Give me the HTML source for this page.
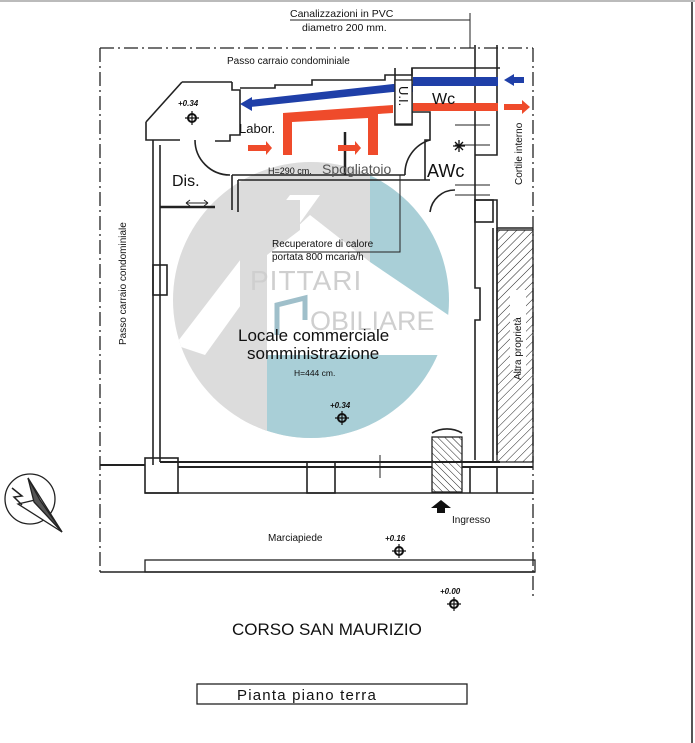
<!DOCTYPE html>
<html><head><meta charset="utf-8"><style>
html,body{margin:0;padding:0;background:#fff;}
svg{display:block;font-family:"Liberation Sans",Arial,sans-serif;}
</style></head><body>
<svg width="695" height="743" viewBox="0 0 695 743" xmlns="http://www.w3.org/2000/svg">
<defs>
<clipPath id="c"><circle cx="311" cy="300" r="138"/></clipPath>
<pattern id="h" width="6" height="6" patternUnits="userSpaceOnUse" patternTransform="rotate(45)"><line x1="0" y1="0" x2="0" y2="6" stroke="#222" stroke-width="1"/></pattern>
<pattern id="h2" width="5" height="5" patternUnits="userSpaceOnUse" patternTransform="rotate(-45)"><line x1="0" y1="0" x2="0" y2="5" stroke="#222" stroke-width="1"/></pattern>
</defs>
<rect width="695" height="743" fill="#fff"/>
<line x1="692" y1="0" x2="692" y2="743" stroke="#555" stroke-width="2"/>
<line x1="0" y1="1" x2="695" y2="1" stroke="#bbb" stroke-width="2"/>

<!-- watermark -->
<g clip-path="url(#c)">
 <rect x="160" y="150" width="210" height="300" fill="#dcdcdc"/>
 <polygon points="370,150 460,150 460,323 370,262" fill="#a9cfd7"/>
 <polygon points="262,355 460,355 460,450 262,450" fill="#a9cfd7"/>
 <polygon points="175,345 290,195 320,195 205,355" fill="#fff"/>
 <polygon points="267,255 310,215 370,262 370,355 267,355" fill="#fff"/>
 <polygon points="240,230 270,200 300,200 300,230 267,255 267,450 240,450 240,300" fill="#dcdcdc"/>
 <polygon points="160,420 240,420 240,450 160,450" fill="#fff"/>
</g>
<text x="250" y="290" font-size="28" fill="#cfcfcf" letter-spacing="1">PITTARI</text>
<text x="310" y="330" font-size="27" fill="#cfcfcf">OBILIARE</text>
<path d="M277 335 L277 305 L305 298 L305 320" fill="none" stroke="#9fbfca" stroke-width="5"/>

<!-- outer dash-dot boundary -->
<g stroke="#222" stroke-width="1.3" fill="none" stroke-dasharray="14,4,2,4">
 <path d="M100 48 L533 48 M100 48 L100 572 M533 48 L533 600"/>
</g>
<line x1="100" y1="572" x2="535" y2="572" stroke="#222" stroke-width="1.5"/>
<rect x="145" y="560" width="390" height="12" fill="none" stroke="#222" stroke-width="1.3"/>

<!-- building walls -->
<g stroke="#222" stroke-width="1.6" fill="none">
 <path d="M182 82 L232 82 M146 122 L182 82 M146 122 L146 140 L180 140"/>
 <path d="M153 140 L153 465 M160 145 L160 462"/>
 <rect x="153" y="265" width="14" height="30"/>
 <path d="M232 82 L232 90 L240 90 L240 135 L230 135 L230 141 L215 141"/>
 <path d="M240 88 L275 88 L275 85 L312 85 L312 80 L385 80 L385 75 L412 75 L412 68 L500 68"/>
 <path d="M232 175 L232 210 M232 175 L405 175 M238 180 L238 212 M238 180 L430 180"/>
 <path d="M160 207 L215 207" stroke-width="2.5"/>
 <path d="M405 112 L430 112 L430 140 L425 140 L425 180"/>
 <path d="M412 68 L412 125 L395 125 L395 68"/>
 <path d="M475 45 L475 200 M497 45 L497 155 L475 155"/>
 <path d="M475 200 L497 200 L497 228 L533 228 M475 200 L475 288 L480 288 L480 320 L475 320 L475 460"/>
 <path d="M493 228 L493 462 M497 228 L497 455"/>
 <rect x="475" y="200" width="18" height="22"/>
 <path d="M160 462 L500 462 M178 467 L432 467 M462 467 L533 467" stroke-width="2"/>
 <rect x="145" y="458" width="33" height="35"/>
 <rect x="307" y="462" width="28" height="31"/>
 <path d="M145 493 L533 493"/>
 <path d="M100 465 L145 465" stroke-width="2"/>
 <path d="M470 467 L470 493 M497 467 L497 493"/>
 <path d="M380 455 L380 478" stroke-width="1"/>
 <path d="M195 140 A35 35 0 0 0 230 175"/>
 <path d="M430 140 A35 35 0 0 0 405 175"/>
 <path d="M430 212 A25 25 0 0 1 455 190"/>
 <path d="M432 433 A30 30 0 0 1 462 433"/>
 <path d="M345 132 L345 175" stroke-width="2.5"/>
 <path d="M400 175 L400 252 L272 252" stroke-width="1"/>
 <path d="M470 13 L470 48 M290 20 L470 20" stroke-width="1"/>
 <path d="M455 125 L490 125 M455 145 L490 145 M455 185 L490 185 M455 195 L490 195" stroke-width="1"/>
 <path d="M186 203 L208 203 M186 203 l4 -3 M186 203 l4 3 M208 203 l-4 -3 M208 203 l-4 3" stroke-width="1"/>
</g>
<rect x="432" y="437" width="30" height="55" fill="url(#h2)" stroke="#222" stroke-width="1.3"/>
<rect x="497" y="230" width="36" height="232" fill="url(#h)" stroke="#222" stroke-width="1.3"/>
<rect x="510" y="290" width="16" height="80" fill="#fff"/>

<!-- ducts -->
<rect x="413" y="77" width="85" height="9" fill="#1f3fa8"/>
<polygon points="393,84 413,84 413,92 393,92 250,107 250,100" fill="#1f3fa8"/>
<polygon points="240,104 252,97 252,111" fill="#1f3fa8"/>
<polygon points="504,80 514,74 514,86" fill="#1f3fa8"/><rect x="512" y="77" width="12" height="6" fill="#1f3fa8"/>
<rect x="413" y="103" width="85" height="8" fill="#ef4b2b"/>
<path d="M283 155 L283 113 L393 105 L393 113 L378 114 L378 155 L368 155 L368 118 L292 122 L292 155 Z" fill="#ef4b2b"/>
<path d="M504 104 L522 104 L522 100 L530 107 L522 114 L522 110 L504 110Z" fill="#ef4b2b"/>
<path d="M248 145 L266 145 L266 141 L272 148 L266 155 L266 151 L248 151Z" fill="#ef4b2b"/>
<path d="M338 145 L355 145 L355 141 L361 148 L355 155 L355 151 L338 151Z" fill="#ef4b2b"/>
<rect x="395" y="80" width="17" height="44" fill="#fff" stroke="#222" stroke-width="1.3"/>

<!-- text -->
<g fill="#111">
<text x="290" y="17" font-size="10.5">Canalizzazioni in PVC</text>
<text x="302" y="31" font-size="10.5">diametro 200 mm.</text>
<text x="227" y="64" font-size="10">Passo carraio condominiale</text>
<text x="178" y="106" font-size="8" font-style="italic" font-weight="bold">+0.34</text>
<text x="239" y="133" font-size="13">Labor.</text>
<text x="432" y="104" font-size="16">Wc</text>
<text x="0" y="0" font-size="13" transform="translate(399,86) rotate(90)">U.I.</text>
<text x="268" y="174" font-size="9">H=290  cm.</text>
<text x="322" y="174" font-size="14" fill="#555">Spogliatoio</text>
<text x="427" y="177" font-size="18">AWc</text>
<text x="172" y="186" font-size="16">Dis.</text>
<text x="0" y="0" font-size="10" transform="translate(522,185) rotate(-90)">Cortile interno</text>
<text x="272" y="247" font-size="10">Recuperatore di calore</text>
<text x="272" y="260" font-size="10">portata 800 mcaria/h</text>
<text x="238" y="341" font-size="17">Locale commerciale</text>
<text x="247" y="359" font-size="17">somministrazione</text>
<text x="294" y="376" font-size="8.5">H=444  cm.</text>
<text x="330" y="408" font-size="8" font-style="italic" font-weight="bold">+0.34</text>
<text x="0" y="0" font-size="10" transform="translate(126,345) rotate(-90)">Passo carraio condominiale</text>
<text x="0" y="0" font-size="10" transform="translate(521,380) rotate(-90)">Altra proprietà</text>
<text x="452" y="523" font-size="10">Ingresso</text>
<text x="268" y="541" font-size="10">Marciapiede</text>
<text x="385" y="541" font-size="8" font-style="italic" font-weight="bold">+0.16</text>
<text x="440" y="594" font-size="8" font-style="italic" font-weight="bold">+0.00</text>
<text x="232" y="635" font-size="17">CORSO SAN MAURIZIO</text>
<text x="237" y="700" font-size="15" letter-spacing="1.2">Pianta  piano  terra</text>
</g>
<rect x="197" y="684" width="270" height="20" fill="none" stroke="#222" stroke-width="1.3"/>
<path d="M437 513 L437 508 L431 508 L441 500 L451 508 L445 508 L445 513Z" fill="#111"/>
<g fill="#111" stroke="#111">
 <g transform="translate(192,118)"><circle r="4" fill="none" stroke-width="2"/><path d="M-7 0H7M0 -7V7" stroke-width="1.2"/></g>
 <g transform="translate(342,418)"><circle r="4" fill="none" stroke-width="2"/><path d="M-7 0H7M0 -7V7" stroke-width="1.2"/></g>
 <g transform="translate(399,551)"><circle r="4" fill="none" stroke-width="2"/><path d="M-7 0H7M0 -7V7" stroke-width="1.2"/></g>
 <g transform="translate(454,604)"><circle r="4" fill="none" stroke-width="2"/><path d="M-7 0H7M0 -7V7" stroke-width="1.2"/></g>
 <path d="M455 142 l8 8 M463 142 l-8 8 M459 140 v12 M453 146 h12" stroke-width="1.3"/>
</g>
<g stroke="#222" stroke-width="1.3" fill="none">
 <circle cx="30" cy="499" r="25"/>
 <path d="M28 478 L62 532 L18 504 L35 500 Z" fill="#fff"/>
 <path d="M28 478 L40 500 L62 532 L34 502Z" fill="#555"/>
 <path d="M12 488 L22 496 L14 497 L22 505" stroke-width="1.5"/>
</g>
</svg>
</body></html>
